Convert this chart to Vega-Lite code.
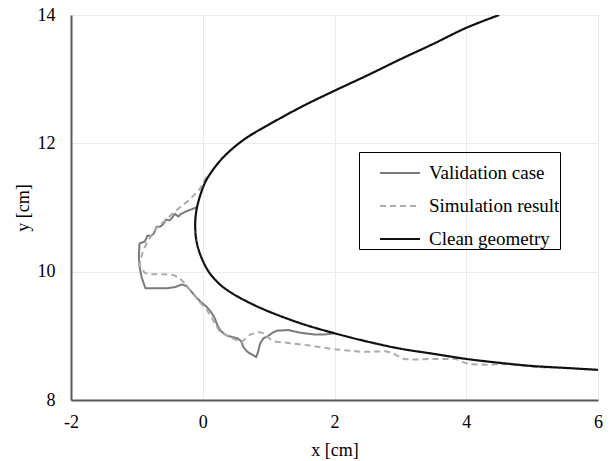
{
  "$schema": "https://vega.github.io/schema/vega-lite/v6.json",
  "autosize": {"type": "none"},
  "width": 527,
  "height": 385,
  "padding": {"left": 71, "top": 15, "right": 13, "bottom": 61},
  "background": "white",
  "config": {
    "view": {"stroke": null},
    "font": "Times New Roman, Liberation Serif, serif",
    "axis": {
      "labelFont": "Times New Roman, Liberation Serif, serif",
      "titleFont": "Times New Roman, Liberation Serif, serif",
      "labelFontSize": 18,
      "titleFontSize": 18,
      "titleFontWeight": "normal",
      "labelColor": "#000000",
      "titleColor": "#000000",
      "labelFlush": false,
      "ticks": false,
      "gridColor": "#ebebeb",
      "gridWidth": 1,
      "domainColor": "#595959",
      "domainWidth": 2
    },
    "legend": {
      "labelFont": "Times New Roman, Liberation Serif, serif",
      "titleFont": "Times New Roman, Liberation Serif, serif"
    }
  },
  "data": {
    "values": [
      {"series": "Clean geometry", "i": 1, "x": 4.5, "y": 14.0},
      {"series": "Clean geometry", "i": 2, "x": 4.0, "y": 13.8},
      {"series": "Clean geometry", "i": 3, "x": 3.5, "y": 13.55},
      {"series": "Clean geometry", "i": 4, "x": 3.0, "y": 13.31},
      {"series": "Clean geometry", "i": 5, "x": 2.5, "y": 13.06},
      {"series": "Clean geometry", "i": 6, "x": 2.0, "y": 12.82},
      {"series": "Clean geometry", "i": 7, "x": 1.5, "y": 12.57},
      {"series": "Clean geometry", "i": 8, "x": 1.0, "y": 12.29},
      {"series": "Clean geometry", "i": 9, "x": 0.7, "y": 12.11},
      {"series": "Clean geometry", "i": 10, "x": 0.5, "y": 11.96},
      {"series": "Clean geometry", "i": 11, "x": 0.3, "y": 11.77},
      {"series": "Clean geometry", "i": 12, "x": 0.15, "y": 11.58},
      {"series": "Clean geometry", "i": 13, "x": 0.04, "y": 11.4},
      {"series": "Clean geometry", "i": 14, "x": -0.05, "y": 11.15},
      {"series": "Clean geometry", "i": 15, "x": -0.1, "y": 10.93},
      {"series": "Clean geometry", "i": 16, "x": -0.115, "y": 10.7},
      {"series": "Clean geometry", "i": 17, "x": -0.09, "y": 10.45},
      {"series": "Clean geometry", "i": 18, "x": -0.02, "y": 10.22},
      {"series": "Clean geometry", "i": 19, "x": 0.09, "y": 10.0},
      {"series": "Clean geometry", "i": 20, "x": 0.25, "y": 9.81},
      {"series": "Clean geometry", "i": 21, "x": 0.45, "y": 9.66},
      {"series": "Clean geometry", "i": 22, "x": 0.7, "y": 9.52},
      {"series": "Clean geometry", "i": 23, "x": 1.0, "y": 9.38},
      {"series": "Clean geometry", "i": 24, "x": 1.5, "y": 9.19},
      {"series": "Clean geometry", "i": 25, "x": 2.0, "y": 9.04},
      {"series": "Clean geometry", "i": 26, "x": 2.5, "y": 8.91},
      {"series": "Clean geometry", "i": 27, "x": 3.0, "y": 8.8},
      {"series": "Clean geometry", "i": 28, "x": 3.5, "y": 8.72},
      {"series": "Clean geometry", "i": 29, "x": 4.0, "y": 8.64},
      {"series": "Clean geometry", "i": 30, "x": 4.5, "y": 8.58},
      {"series": "Clean geometry", "i": 31, "x": 5.0, "y": 8.53},
      {"series": "Clean geometry", "i": 32, "x": 5.5, "y": 8.5},
      {"series": "Clean geometry", "i": 33, "x": 6.0, "y": 8.47},

      {"series": "Validation case", "i": 1, "x": -0.1, "y": 11.0},
      {"series": "Validation case", "i": 2, "x": -0.15, "y": 10.98},
      {"series": "Validation case", "i": 3, "x": -0.25, "y": 10.94},
      {"series": "Validation case", "i": 4, "x": -0.33, "y": 10.9},
      {"series": "Validation case", "i": 5, "x": -0.37, "y": 10.86},
      {"series": "Validation case", "i": 6, "x": -0.42, "y": 10.9},
      {"series": "Validation case", "i": 7, "x": -0.46, "y": 10.85},
      {"series": "Validation case", "i": 8, "x": -0.5, "y": 10.8},
      {"series": "Validation case", "i": 9, "x": -0.56, "y": 10.81},
      {"series": "Validation case", "i": 10, "x": -0.6, "y": 10.74},
      {"series": "Validation case", "i": 11, "x": -0.65, "y": 10.7},
      {"series": "Validation case", "i": 12, "x": -0.7, "y": 10.7},
      {"series": "Validation case", "i": 13, "x": -0.74, "y": 10.6},
      {"series": "Validation case", "i": 14, "x": -0.78, "y": 10.56},
      {"series": "Validation case", "i": 15, "x": -0.84, "y": 10.56},
      {"series": "Validation case", "i": 16, "x": -0.88, "y": 10.47},
      {"series": "Validation case", "i": 17, "x": -0.96, "y": 10.44},
      {"series": "Validation case", "i": 18, "x": -0.97, "y": 10.25},
      {"series": "Validation case", "i": 19, "x": -0.96, "y": 10.08},
      {"series": "Validation case", "i": 20, "x": -0.93, "y": 9.92},
      {"series": "Validation case", "i": 21, "x": -0.87, "y": 9.74},
      {"series": "Validation case", "i": 22, "x": -0.7, "y": 9.74},
      {"series": "Validation case", "i": 23, "x": -0.55, "y": 9.74},
      {"series": "Validation case", "i": 24, "x": -0.42, "y": 9.76},
      {"series": "Validation case", "i": 25, "x": -0.32, "y": 9.8},
      {"series": "Validation case", "i": 26, "x": -0.25, "y": 9.78},
      {"series": "Validation case", "i": 27, "x": -0.18, "y": 9.7},
      {"series": "Validation case", "i": 28, "x": -0.1, "y": 9.6},
      {"series": "Validation case", "i": 29, "x": -0.02, "y": 9.52},
      {"series": "Validation case", "i": 30, "x": 0.05, "y": 9.46},
      {"series": "Validation case", "i": 31, "x": 0.12, "y": 9.38},
      {"series": "Validation case", "i": 32, "x": 0.18, "y": 9.28},
      {"series": "Validation case", "i": 33, "x": 0.22, "y": 9.17},
      {"series": "Validation case", "i": 34, "x": 0.27, "y": 9.08},
      {"series": "Validation case", "i": 35, "x": 0.35, "y": 9.01},
      {"series": "Validation case", "i": 36, "x": 0.45, "y": 8.98},
      {"series": "Validation case", "i": 37, "x": 0.53, "y": 8.96},
      {"series": "Validation case", "i": 38, "x": 0.58, "y": 8.92},
      {"series": "Validation case", "i": 39, "x": 0.62, "y": 8.82},
      {"series": "Validation case", "i": 40, "x": 0.68, "y": 8.75},
      {"series": "Validation case", "i": 41, "x": 0.76, "y": 8.7},
      {"series": "Validation case", "i": 42, "x": 0.81, "y": 8.67},
      {"series": "Validation case", "i": 43, "x": 0.84, "y": 8.75},
      {"series": "Validation case", "i": 44, "x": 0.87, "y": 8.88},
      {"series": "Validation case", "i": 45, "x": 0.92, "y": 8.96},
      {"series": "Validation case", "i": 46, "x": 0.98, "y": 8.99},
      {"series": "Validation case", "i": 47, "x": 1.05, "y": 9.04},
      {"series": "Validation case", "i": 48, "x": 1.12, "y": 9.08},
      {"series": "Validation case", "i": 49, "x": 1.3, "y": 9.09},
      {"series": "Validation case", "i": 50, "x": 1.47, "y": 9.05},
      {"series": "Validation case", "i": 51, "x": 1.7, "y": 9.02},
      {"series": "Validation case", "i": 52, "x": 1.85, "y": 9.02},
      {"series": "Validation case", "i": 53, "x": 2.0, "y": 9.04},

      {"series": "Simulation result", "i": 1, "x": 0.06, "y": 11.48},
      {"series": "Simulation result", "i": 2, "x": -0.05, "y": 11.28},
      {"series": "Simulation result", "i": 3, "x": -0.2, "y": 11.12},
      {"series": "Simulation result", "i": 4, "x": -0.35, "y": 11.0},
      {"series": "Simulation result", "i": 5, "x": -0.55, "y": 10.82},
      {"series": "Simulation result", "i": 6, "x": -0.72, "y": 10.66},
      {"series": "Simulation result", "i": 7, "x": -0.85, "y": 10.45},
      {"series": "Simulation result", "i": 8, "x": -0.92, "y": 10.28},
      {"series": "Simulation result", "i": 9, "x": -0.96, "y": 10.1},
      {"series": "Simulation result", "i": 10, "x": -0.88, "y": 9.98},
      {"series": "Simulation result", "i": 11, "x": -0.8, "y": 9.96},
      {"series": "Simulation result", "i": 12, "x": -0.6, "y": 9.96},
      {"series": "Simulation result", "i": 13, "x": -0.45, "y": 9.95},
      {"series": "Simulation result", "i": 14, "x": -0.35, "y": 9.9},
      {"series": "Simulation result", "i": 15, "x": -0.25, "y": 9.79},
      {"series": "Simulation result", "i": 16, "x": -0.15, "y": 9.66},
      {"series": "Simulation result", "i": 17, "x": -0.05, "y": 9.53},
      {"series": "Simulation result", "i": 18, "x": 0.05, "y": 9.42},
      {"series": "Simulation result", "i": 19, "x": 0.11, "y": 9.33},
      {"series": "Simulation result", "i": 20, "x": 0.18, "y": 9.2},
      {"series": "Simulation result", "i": 21, "x": 0.25, "y": 9.08},
      {"series": "Simulation result", "i": 22, "x": 0.36, "y": 9.01},
      {"series": "Simulation result", "i": 23, "x": 0.48, "y": 8.95},
      {"series": "Simulation result", "i": 24, "x": 0.59, "y": 8.9},
      {"series": "Simulation result", "i": 25, "x": 0.65, "y": 8.96},
      {"series": "Simulation result", "i": 26, "x": 0.72, "y": 9.02},
      {"series": "Simulation result", "i": 27, "x": 0.85, "y": 9.06},
      {"series": "Simulation result", "i": 28, "x": 0.93, "y": 9.04},
      {"series": "Simulation result", "i": 29, "x": 1.02, "y": 8.95},
      {"series": "Simulation result", "i": 30, "x": 1.1, "y": 8.91},
      {"series": "Simulation result", "i": 31, "x": 1.3, "y": 8.89},
      {"series": "Simulation result", "i": 32, "x": 1.62, "y": 8.85},
      {"series": "Simulation result", "i": 33, "x": 2.0, "y": 8.79},
      {"series": "Simulation result", "i": 34, "x": 2.43, "y": 8.75},
      {"series": "Simulation result", "i": 35, "x": 2.78, "y": 8.76},
      {"series": "Simulation result", "i": 36, "x": 2.9, "y": 8.72},
      {"series": "Simulation result", "i": 37, "x": 3.05, "y": 8.64},
      {"series": "Simulation result", "i": 38, "x": 3.2, "y": 8.63},
      {"series": "Simulation result", "i": 39, "x": 3.5, "y": 8.64},
      {"series": "Simulation result", "i": 40, "x": 3.84, "y": 8.64},
      {"series": "Simulation result", "i": 41, "x": 3.95, "y": 8.59},
      {"series": "Simulation result", "i": 42, "x": 4.05, "y": 8.56},
      {"series": "Simulation result", "i": 43, "x": 4.3, "y": 8.55},
      {"series": "Simulation result", "i": 44, "x": 4.6, "y": 8.56},
      {"series": "Simulation result", "i": 45, "x": 5.0, "y": 8.52},
      {"series": "Simulation result", "i": 46, "x": 5.3, "y": 8.5}
    ]
  },
  "encoding": {
    "x": {
      "field": "x", "type": "quantitative",
      "scale": {"domain": [-2, 6], "nice": false, "zero": false},
      "axis": {
        "title": "x [cm]", "values": [-2, 0, 2, 4, 6], "labelExpr": "'' + datum.value",
        "labelFont": "Times New Roman, Liberation Serif, serif", "labelFontSize": 18,
        "titleFont": "Times New Roman, Liberation Serif, serif", "titleFontSize": 18,
        "labelFlush": false, "labelPadding": 13, "titlePadding": 10, "grid": true
      }
    },
    "y": {
      "field": "y", "type": "quantitative",
      "scale": {"domain": [8, 14], "nice": false, "zero": false},
      "axis": {
        "title": "y [cm]", "values": [8, 10, 12, 14],
        "labelFont": "Times New Roman, Liberation Serif, serif", "labelFontSize": 18,
        "titleFont": "Times New Roman, Liberation Serif, serif", "titleFontSize": 18,
        "labelFlush": false, "labelAlign": "right", "labelPadding": 16, "titlePadding": 5, "grid": true
      }
    },
    "order": {"field": "i", "type": "quantitative"},
    "color": {
      "field": "series", "type": "nominal",
      "scale": {
        "domain": ["Validation case", "Simulation result", "Clean geometry"],
        "range": ["#7a7a7a", "#acacac", "#111111"]
      },
      "legend": {
        "title": null,
        "orient": "none",
        "legendX": 288,
        "legendY": 137,
        "strokeColor": "#000000",
        "padding": 0,
        "symbolOffset": 20,
        "symbolType": "stroke",
        "symbolSize": 1600,
        "symbolStrokeWidth": 2,
        "labelFont": "Times New Roman, Liberation Serif, serif",
        "labelFontSize": 19,
        "labelColor": "#000000",
        "labelOffset": 8,
        "rowPadding": 2,
        "labelLimit": 300
      }
    },
    "strokeDash": {
      "field": "series", "type": "nominal",
      "scale": {
        "domain": ["Validation case", "Simulation result", "Clean geometry"],
        "range": [[1, 0], [6, 4], [1, 0]]
      },
      "legend": null
    }
  },
  "layer": [
    {
      "transform": [{"filter": "datum.series != 'Clean geometry'"}],
      "mark": {"type": "line", "strokeWidth": 2, "interpolate": "linear", "clip": true}
    },
    {
      "transform": [{"filter": "datum.series == 'Clean geometry'"}],
      "mark": {"type": "line", "strokeWidth": 2.2, "interpolate": "catmull-rom", "clip": true}
    }
  ]
}
